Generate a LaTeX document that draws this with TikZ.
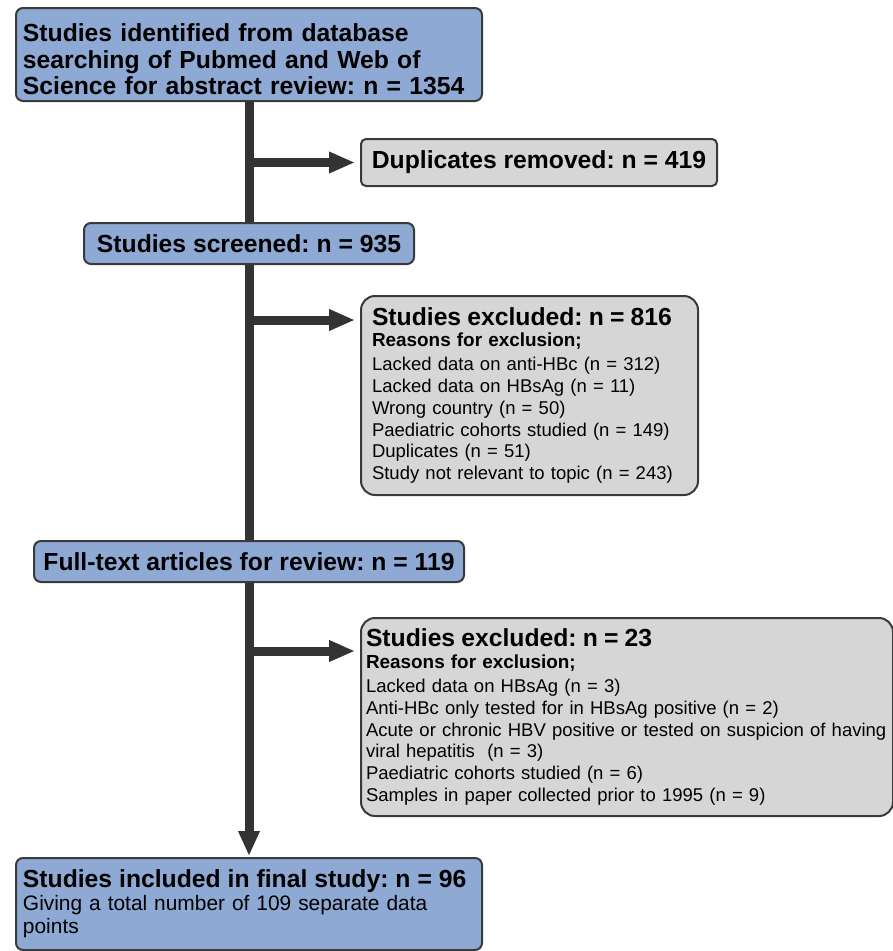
\documentclass[tikz,border=0pt]{standalone}
\usepackage{fontspec}
\setmainfont{Liberation Sans}
\usetikzlibrary{arrows.meta}
\definecolor{stageblue}{RGB}{142,169,211}
\definecolor{dropgrey}{RGB}{214,214,214}
\definecolor{edgegrey}{RGB}{58,58,58}
\definecolor{arrowgrey}{RGB}{51,51,51}
\newcommand{\headfont}{\fontsize{24.7}{26.5}\selectfont\bfseries}
\newcommand{\subfont}{\fontsize{18.9}{21.8}\selectfont\bfseries}
\newcommand{\bodyfont}{\fontsize{18.5}{21.8}\selectfont}
\newcommand{\notefont}{\fontsize{20.9}{23}\selectfont}

\begin{document}
\frenchspacing
\hyphenpenalty=10000
\begin{tikzpicture}
  [x=1pt,y=-1pt,
   flowbox/.style={draw=edgegrey,line width=2pt,rounded corners=7pt,anchor=north west,
                   align=left,inner xsep=10pt,inner ysep=0pt},
   stageN/.style={flowbox,fill=stageblue,font=\headfont},
   dropN/.style={flowbox,fill=dropgrey,font=\headfont,rounded corners=5pt},
   reasonN/.style={flowbox,fill=dropgrey,font=\bodyfont,rounded corners=14pt},
   trunk/.style={draw=arrowgrey,line width=9pt},
   branch/.style={trunk,-{Triangle[length=26pt,width=20pt]},shorten >=5pt},
  ]
 \useasboundingbox (0,0) rectangle (893,951);

 % main stages
 \node[stageN,minimum width=466pt,minimum height=93pt,text width=452pt,inner xsep=7pt] (ident) at (15,7)
   {\rule{0pt}{28pt}Studies identified from database\\
    searching of Pubmed and Web of\\
    Science for abstract review: n = 1354};
 \node[stageN,minimum width=330pt,minimum height=41pt,inner xsep=6pt] (screened) at (83,222)
   {Studies screened: n = 935};
 \node[stageN,minimum width=430pt,minimum height=41pt,inner xsep=6pt] (fulltext) at (33,540)
   {Full-text articles for review: n = 119};
 \node[stageN,font=\notefont,minimum width=466pt,minimum height=92pt,text width=452pt,inner xsep=7pt]
   (included) at (15,857)
   {{\headfont Studies included in final study: n = 96}\\
    Giving a total number of 109 separate data\\
    points};

 % removed / excluded
 \node[dropN,minimum width=356pt,minimum height=47pt,inner xsep=6pt] (dupl) at (360,138)
   {Duplicates removed: n = 419};
 \node[reasonN,minimum width=337pt,minimum height=199pt,text width=315pt,inner xsep=11pt]
   (exclA) at (360,295)
   {{\headfont Studies excluded: n = 816}\\[-0.6pt]
    {\subfont Reasons for exclusion;}\\[2.2pt]
    Lacked data on anti-HBc (n = 312)\\
    Lacked data on HBsAg (n = 11)\\
    Wrong country (n = 50)\\
    Paediatric cohorts studied (n = 149)\\
    Duplicates (n = 51)\\
    Study not relevant to topic (n = 243)};
 \node[reasonN,minimum width=532pt,minimum height=198pt,text width=522pt,inner xsep=5pt]
   (exclB) at (360,617)
   {{\headfont Studies excluded: n = 23}\\[0.2pt]
    {\subfont Reasons for exclusion;}\\[2.2pt]
    Lacked data on HBsAg (n = 3)\\
    Anti-HBc only tested for in HBsAg positive (n = 2)\\
    Acute or chronic HBV positive or tested on suspicion of having\\
    viral hepatitis\ \ (n = 3)\\
    Paediatric cohorts studied (n = 6)\\
    Samples in paper collected prior to 1995 (n = 9)};

 % trunk and branches
 \coordinate (forkA) at (248,320);
 \coordinate (forkB) at (248,651);
 \draw[trunk] (ident.south) -- (ident.south |- screened.north);
 \draw[trunk] (screened.south) -- (screened.south |- fulltext.north);
 \draw[trunk,-{Triangle[length=25pt,width=20pt]},shorten >=1pt]
   (fulltext.south) -- (fulltext.south |- included.north);
 \draw[branch] (ident.south |- dupl.west) -- (dupl.west);
 \draw[branch] (forkA) -- (forkA -| exclA.west);
 \draw[branch] (forkB) -- (forkB -| exclB.west);

\end{tikzpicture}
\end{document}
